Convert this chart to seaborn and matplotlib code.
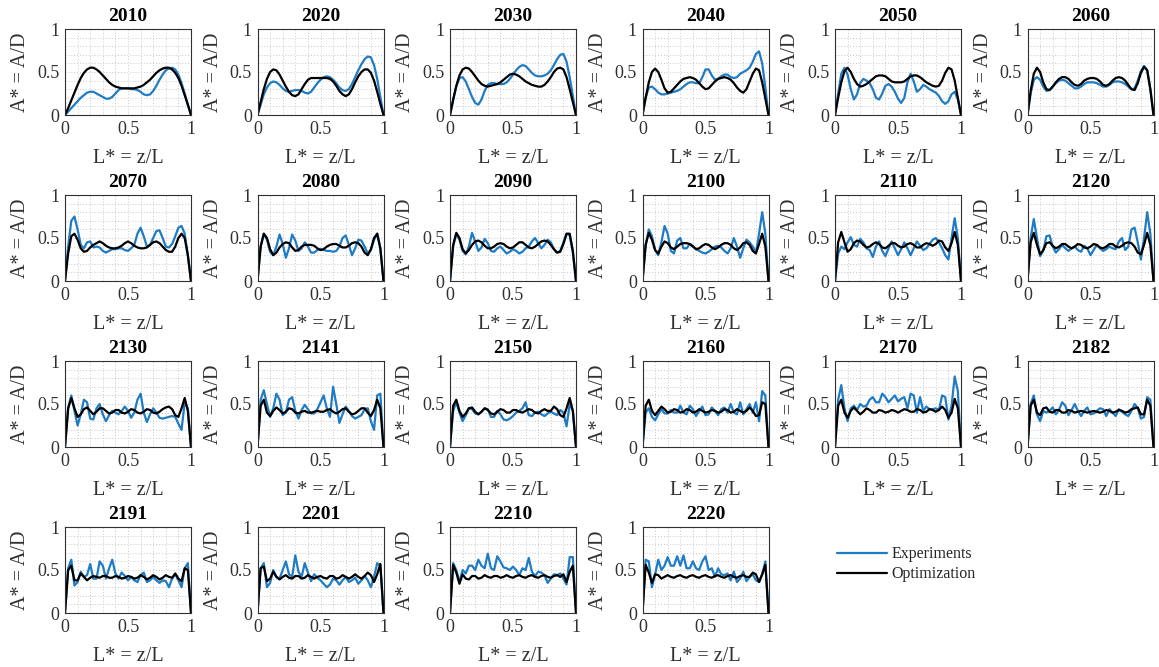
import numpy as np
import pandas as pd
import matplotlib
matplotlib.use("Agg")
import matplotlib.pyplot as plt
import seaborn as sns
from matplotlib.lines import Line2D

# Sample positions along the normalised length L* = z/L
z_star = np.linspace(0.0, 1.0, 41)

years = ["2010", "2020", "2030", "2040", "2050", "2060",
         "2070", "2080", "2090", "2100", "2110", "2120",
         "2130", "2141", "2150", "2160", "2170", "2182",
         "2191", "2201", "2210", "2220"]

tick_values = [0, 0.5, 1]
tick_labels = ["0", "0.5", "1"]
series_names = ["Experiments", "Optimization"]

# Measured (exp) and optimised (opt) amplitude profiles A* = A/D
exp_2010 = [0, .04, .08, .12, .16, .20, .23, .26, .27, .27,
            .25, .23, .21, .19, .19, .21, .25, .29, .31, .31,
            .31, .30, .30, .29, .27, .24, .23, .24, .28, .34,
            .41, .47, .52, .54, .55, .53, .47, .37, .25, .12, 0]
opt_2010 = [0, .08, .17, .26, .35, .43, .49, .53, .55, .55,
            .53, .50, .46, .42, .38, .35, .33, .32, .31, .31,
            .31, .31, .31, .32, .33, .35, .38, .41, .45, .49,
            .52, .54, .55, .55, .53, .49, .43, .34, .23, .12, 0]

exp_2020 = [0, .12, .24, .32, .37, .39, .38, .35, .31, .28,
            .27, .28, .29, .29, .28, .26, .25, .27, .32, .37,
            .41, .44, .45, .44, .41, .37, .32, .29, .28, .30,
            .36, .44, .52, .59, .65, .68, .67, .58, .42, .21, 0]
opt_2020 = [0, .15, .30, .42, .50, .53, .52, .47, .40, .33,
            .27, .23, .22, .24, .30, .36, .41, .43, .43, .43,
            .43, .43, .43, .42, .39, .34, .28, .24, .22, .24,
            .30, .38, .45, .50, .53, .53, .49, .40, .27, .13, 0]

exp_2030 = [0, .17, .33, .43, .44, .39, .30, .21, .14, .12,
            .18, .28, .35, .37, .37, .36, .36, .36, .38, .42,
            .47, .52, .56, .58, .57, .53, .49, .46, .45, .45,
            .46, .48, .52, .58, .65, .70, .71, .62, .44, .22, 0]
opt_2030 = [0, .18, .34, .46, .53, .55, .54, .50, .45, .40,
            .36, .34, .33, .34, .35, .36, .38, .41, .44, .47,
            .48, .47, .45, .42, .39, .37, .35, .34, .33, .33,
            .35, .39, .44, .50, .54, .55, .53, .44, .30, .15, 0]

exp_2040 = [0, .20, .32, .33, .30, .26, .24, .24, .25, .26,
            .27, .28, .30, .33, .36, .38, .38, .37, .37, .44,
            .53, .53, .46, .41, .42, .45, .47, .47, .44, .43,
            .44, .48, .50, .52, .55, .62, .71, .74, .60, .32, 0]
opt_2040 = [0, .20, .38, .50, .54, .50, .41, .31, .26, .27,
            .31, .35, .39, .42, .43, .44, .43, .41, .37, .33,
            .30, .31, .35, .39, .42, .43, .44, .43, .41, .37,
            .32, .28, .26, .30, .39, .48, .54, .52, .38, .19, 0]

exp_2050 = [0, .25, .48, .55, .47, .30, .18, .24, .37, .42,
            .40, .37, .30, .20, .18, .25, .34, .36, .33, .27,
            .19, .14, .20, .38, .48, .39, .27, .30, .35, .33,
            .30, .28, .26, .22, .16, .13, .16, .24, .27, .18, 0]
opt_2050 = [0, .20, .38, .51, .55, .50, .42, .36, .33, .34,
            .36, .39, .42, .45, .46, .46, .45, .42, .39, .38,
            .38, .38, .39, .42, .45, .46, .46, .44, .41, .38,
            .36, .34, .33, .34, .40, .49, .55, .53, .40, .20, 0]

exp_2060 = [0, .25, .41, .44, .41, .33, .28, .29, .33, .37,
            .40, .41, .40, .37, .34, .31, .31, .33, .36, .38,
            .38, .38, .37, .35, .33, .33, .35, .38, .39, .39,
            .38, .36, .33, .30, .31, .40, .51, .57, .52, .30, 0]
opt_2060 = [0, .28, .48, .55, .50, .38, .30, .29, .33, .38,
            .42, .44, .44, .42, .38, .35, .34, .36, .40, .42,
            .43, .43, .42, .39, .35, .34, .36, .40, .43, .44,
            .43, .40, .35, .30, .29, .37, .49, .56, .52, .30, 0]

exp_2070 = [0, .40, .70, .75, .60, .42, .38, .45, .46, .39,
            .40, .39, .35, .33, .35, .37, .37, .38, .38, .36,
            .35, .38, .42, .55, .62, .52, .40, .42, .50, .58,
            .59, .50, .40, .39, .43, .52, .62, .64, .55, .30, 0]
opt_2070 = [0, .32, .52, .55, .48, .38, .34, .35, .39, .42,
            .44, .46, .44, .41, .39, .38, .38, .39, .41, .44,
            .46, .44, .41, .39, .38, .38, .39, .42, .45, .46,
            .44, .40, .36, .34, .34, .40, .50, .55, .50, .30, 0]

exp_2080 = [0, .40, .55, .48, .34, .30, .40, .54, .43, .27,
            .38, .54, .47, .35, .38, .45, .40, .33, .33, .36,
            .37, .36, .35, .35, .34, .35, .40, .50, .53, .42,
            .30, .38, .48, .47, .40, .32, .36, .48, .55, .38, 0]
opt_2080 = [0, .40, .55, .50, .37, .30, .33, .39, .43, .45,
            .44, .39, .35, .36, .40, .42, .42, .42, .41, .38,
            .36, .37, .40, .42, .43, .43, .41, .39, .39, .41,
            .44, .45, .44, .40, .33, .30, .37, .50, .55, .38, 0]

exp_2090 = [0, .40, .55, .48, .35, .31, .40, .56, .46, .35,
            .39, .49, .44, .35, .34, .38, .40, .36, .32, .34,
            .37, .35, .32, .34, .38, .40, .46, .50, .44, .38,
            .42, .48, .45, .37, .33, .35, .45, .55, .53, .33, 0]
opt_2090 = [0, .42, .56, .50, .37, .32, .36, .42, .46, .47,
            .45, .41, .38, .38, .40, .43, .44, .43, .40, .38,
            .39, .42, .45, .45, .42, .39, .38, .40, .43, .46,
            .47, .46, .42, .37, .33, .34, .43, .55, .55, .35, 0]

exp_2100 = [0, .42, .60, .52, .36, .30, .45, .64, .55, .35,
            .32, .47, .50, .38, .38, .43, .41, .37, .35, .33,
            .32, .34, .37, .40, .41, .39, .35, .32, .38, .50,
            .40, .27, .38, .48, .45, .40, .33, .55, .80, .55, 0]
opt_2100 = [0, .42, .56, .48, .36, .32, .40, .46, .44, .39,
            .37, .40, .43, .44, .44, .43, .40, .37, .38, .41,
            .43, .42, .39, .37, .39, .42, .44, .44, .42, .38,
            .36, .39, .44, .45, .42, .35, .32, .43, .55, .40, 0]

exp_2110 = [0, .32, .40, .37, .45, .51, .42, .40, .49, .45,
            .38, .36, .28, .40, .46, .35, .29, .38, .46, .38,
            .30, .37, .45, .38, .30, .38, .46, .41, .36, .38,
            .43, .48, .50, .45, .38, .30, .25, .50, .73, .50, 0]
opt_2110 = [0, .45, .57, .45, .34, .37, .44, .47, .46, .42,
            .39, .40, .43, .45, .43, .39, .38, .41, .44, .44,
            .41, .39, .40, .43, .44, .42, .39, .39, .42, .44,
            .43, .41, .43, .47, .46, .39, .35, .44, .57, .42, 0]

exp_2120 = [0, .50, .72, .50, .29, .35, .52, .53, .40, .33,
            .37, .42, .38, .35, .38, .40, .36, .34, .41, .38,
            .30, .36, .42, .38, .35, .37, .40, .38, .37, .46,
            .50, .36, .40, .60, .62, .45, .25, .50, .80, .55, 0]
opt_2120 = [0, .45, .56, .42, .31, .36, .44, .45, .41, .38,
            .40, .43, .43, .40, .38, .40, .43, .42, .39, .38,
            .40, .43, .42, .39, .38, .40, .43, .43, .40, .39,
            .41, .44, .45, .44, .40, .33, .31, .42, .56, .42, 0]

exp_2130 = [0, .45, .60, .42, .25, .38, .55, .52, .33, .32,
            .45, .50, .38, .30, .37, .42, .40, .38, .42, .47,
            .42, .34, .40, .55, .62, .40, .29, .38, .45, .40,
            .34, .33, .34, .35, .36, .35, .27, .20, .52, .45, 0]
opt_2130 = [0, .45, .57, .45, .35, .38, .44, .46, .42, .38,
            .41, .45, .45, .42, .39, .40, .43, .43, .40, .39,
            .41, .44, .43, .40, .39, .41, .44, .43, .40, .39,
            .41, .44, .46, .47, .44, .37, .35, .45, .57, .42, 0]

exp_2141 = [0, .55, .66, .50, .35, .45, .62, .55, .37, .40,
            .55, .58, .42, .33, .43, .49, .44, .39, .39, .44,
            .52, .60, .45, .35, .70, .50, .28, .38, .47, .42,
            .36, .33, .35, .37, .44, .45, .30, .20, .60, .62, 0]
opt_2141 = [0, .48, .55, .40, .36, .42, .46, .43, .39, .41,
            .45, .44, .40, .39, .41, .42, .40, .40, .41, .42,
            .41, .41, .43, .44, .41, .39, .41, .44, .45, .41,
            .38, .39, .42, .45, .45, .40, .36, .43, .55, .45, 0]

exp_2150 = [0, .42, .52, .40, .30, .37, .45, .44, .39, .38,
            .41, .45, .44, .35, .35, .42, .38, .32, .31, .33,
            .36, .40, .42, .45, .52, .37, .36, .40, .41, .38,
            .36, .39, .41, .39, .37, .43, .40, .24, .50, .42, 0]
opt_2150 = [0, .48, .55, .42, .35, .39, .45, .46, .41, .38,
            .41, .45, .43, .39, .38, .41, .44, .43, .40, .40,
            .43, .43, .41, .40, .42, .44, .43, .40, .39, .42,
            .44, .42, .42, .47, .44, .37, .35, .45, .57, .42, 0]

exp_2160 = [0, .40, .45, .35, .31, .38, .44, .39, .39, .43,
            .40, .40, .48, .40, .38, .48, .44, .36, .42, .47,
            .37, .38, .46, .42, .37, .44, .46, .40, .50, .40,
            .38, .52, .38, .44, .50, .40, .52, .30, .65, .60, 0]
opt_2160 = [0, .48, .55, .42, .37, .42, .47, .44, .40, .41,
            .44, .43, .40, .41, .44, .43, .40, .41, .44, .42,
            .40, .41, .43, .42, .40, .41, .44, .43, .40, .41,
            .44, .42, .40, .42, .46, .42, .36, .37, .52, .50, 0]

exp_2170 = [0, .55, .72, .45, .30, .45, .48, .43, .50, .47,
            .48, .55, .58, .52, .52, .62, .58, .52, .56, .60,
            .53, .56, .58, .45, .62, .60, .40, .58, .42, .47,
            .44, .44, .45, .43, .60, .58, .32, .48, .82, .65, 0]
opt_2170 = [0, .48, .55, .40, .34, .42, .46, .42, .38, .41,
            .45, .43, .40, .40, .43, .42, .40, .41, .43, .42,
            .40, .42, .44, .43, .41, .41, .44, .43, .40, .41,
            .44, .43, .41, .43, .47, .43, .34, .40, .56, .45, 0]

exp_2182 = [0, .50, .60, .38, .30, .42, .40, .42, .46, .38,
            .43, .52, .48, .37, .43, .50, .42, .36, .42, .46,
            .38, .39, .42, .45, .44, .36, .44, .40, .36, .44,
            .41, .38, .36, .42, .50, .45, .33, .35, .58, .55, 0]
opt_2182 = [0, .48, .55, .40, .37, .45, .46, .41, .40, .43,
            .43, .40, .40, .43, .42, .40, .41, .42, .41, .40,
            .41, .42, .41, .40, .41, .43, .42, .40, .41, .43,
            .42, .40, .41, .44, .45, .46, .38, .38, .55, .48, 0]

exp_2191 = [0, .52, .62, .32, .36, .48, .42, .44, .57, .40,
            .40, .60, .55, .40, .52, .62, .46, .40, .47, .43,
            .38, .42, .38, .36, .44, .47, .36, .38, .42, .38,
            .35, .38, .37, .30, .40, .45, .38, .30, .52, .58, 0]
opt_2191 = [0, .50, .55, .38, .38, .46, .42, .38, .41, .43,
            .42, .41, .43, .43, .41, .41, .43, .42, .40, .41,
            .43, .42, .40, .41, .44, .42, .39, .41, .44, .42,
            .39, .41, .44, .42, .41, .46, .40, .37, .52, .50, 0]

exp_2201 = [0, .52, .58, .30, .35, .50, .42, .40, .50, .60,
            .45, .42, .67, .48, .42, .58, .47, .37, .45, .41,
            .38, .34, .30, .33, .40, .38, .33, .38, .42, .36,
            .38, .41, .34, .38, .43, .38, .30, .42, .58, .55, 0]
opt_2201 = [0, .52, .54, .37, .40, .48, .42, .39, .42, .44,
            .41, .40, .43, .43, .40, .41, .44, .42, .40, .42,
            .43, .41, .40, .43, .43, .40, .41, .44, .42, .40,
            .42, .45, .42, .40, .43, .47, .44, .36, .45, .57, 0]

exp_2210 = [0, .58, .50, .36, .50, .46, .55, .55, .50, .62,
            .55, .52, .69, .52, .50, .66, .60, .53, .52, .50,
            .54, .50, .44, .52, .50, .64, .48, .43, .48, .47,
            .44, .35, .40, .45, .44, .46, .40, .33, .65, .65, 0]
opt_2210 = [0, .56, .47, .34, .45, .40, .39, .43, .43, .40,
            .41, .44, .42, .41, .43, .43, .41, .42, .44, .42,
            .41, .43, .44, .42, .41, .43, .44, .42, .41, .43,
            .44, .42, .41, .43, .44, .42, .45, .36, .48, .55, 0]

exp_2220 = [0, .62, .60, .30, .45, .62, .50, .55, .65, .55,
            .55, .66, .55, .67, .52, .52, .60, .52, .50, .60,
            .66, .50, .52, .42, .52, .45, .44, .46, .38, .48,
            .36, .40, .48, .37, .42, .45, .38, .36, .45, .60, 0]
opt_2220 = [0, .56, .47, .35, .45, .44, .40, .42, .44, .42,
            .41, .43, .44, .42, .41, .43, .44, .42, .41, .43,
            .44, .42, .41, .43, .44, .42, .41, .43, .44, .42,
            .41, .43, .44, .42, .42, .47, .45, .36, .45, .56, 0]

experiments = [exp_2010, exp_2020, exp_2030, exp_2040, exp_2050, exp_2060,
               exp_2070, exp_2080, exp_2090, exp_2100, exp_2110, exp_2120,
               exp_2130, exp_2141, exp_2150, exp_2160, exp_2170, exp_2182,
               exp_2191, exp_2201, exp_2210, exp_2220]
optimization = [opt_2010, opt_2020, opt_2030, opt_2040, opt_2050, opt_2060,
                opt_2070, opt_2080, opt_2090, opt_2100, opt_2110, opt_2120,
                opt_2130, opt_2141, opt_2150, opt_2160, opt_2170, opt_2182,
                opt_2191, opt_2201, opt_2210, opt_2220]

# Long-format table for seaborn
frames = []
for year, e, o in zip(years, experiments, optimization):
    frames.append(pd.DataFrame({"year": year, "z": z_star, "A": e,
                                "series": series_names[0]}))
    frames.append(pd.DataFrame({"year": year, "z": z_star, "A": o,
                                "series": series_names[1]}))
profiles = pd.concat(frames, ignore_index=True)

sns.set_theme(style="white")
plt.rcParams["font.family"] = ["Liberation Serif", "DejaVu Serif"]

BLUE = "#1f7cc4"
INK = "#303030"
palette = {series_names[0]: BLUE, series_names[1]: "black"}

W, H = 1159, 667
fig = plt.figure(figsize=(W / 100, H / 100), dpi=100)
fig.patch.set_facecolor("white")

ncols = 6
ax_w, ax_h = 126, 86
col_step, row_step = 192.5, 166
left0, top0 = 65, 29

for k, year in enumerate(years):
    r, c = divmod(k, ncols)
    lpx = left0 + c * col_step
    tpx = top0 + r * row_step
    ax = fig.add_axes([lpx / W, 1 - (tpx + ax_h) / H, ax_w / W, ax_h / H])
    sub = profiles[profiles["year"] == year]
    sns.lineplot(data=sub, x="z", y="A", hue="series",
                 hue_order=series_names, palette=palette,
                 linewidth=1.6, legend=False, ax=ax, sort=False,
                 solid_joinstyle="round", solid_capstyle="round")
    ax.set_xlim(0, 1)
    ax.set_ylim(0, 1)
    ax.set_xticks(tick_values)
    ax.set_xticklabels(tick_labels)
    ax.set_yticks(tick_values)
    ax.set_yticklabels(tick_labels)
    ax.set_xticks(np.arange(0, 1.0001, 0.1), minor=True)
    ax.set_yticks(np.arange(0, 1.0001, 0.1), minor=True)
    ax.grid(True, which="both", linestyle=(0, (1, 2)), linewidth=0.7,
            color="#c8c8c8")
    ax.set_axisbelow(True)
    ax.tick_params(which="major", direction="in", length=3, width=0.6,
                   colors=INK, labelsize=13, pad=4)
    ax.tick_params(which="minor", length=0)
    for sp in ax.spines.values():
        sp.set_visible(True)
        sp.set_color(INK)
        sp.set_linewidth(0.8)
    ax.set_xlabel("L* = z/L", fontsize=14.5, color=INK, labelpad=8)
    ax.set_ylabel("A* = A/D", fontsize=14.5, color=INK, labelpad=5)
    ax.set_title(year, fontsize=14, fontweight="bold", color="black", pad=6)

handles = [Line2D([], [], color=BLUE, lw=1.6),
           Line2D([], [], color="black", lw=1.6)]
fig.legend(handles, series_names, loc="upper left",
           bbox_to_anchor=(831 / W, 1 - 540 / H), frameon=False,
           fontsize=11.5, handlelength=3.1, handletextpad=0.3,
           labelspacing=0.25, borderaxespad=0.0)

fig.savefig("out.png", dpi=100, facecolor="white")
